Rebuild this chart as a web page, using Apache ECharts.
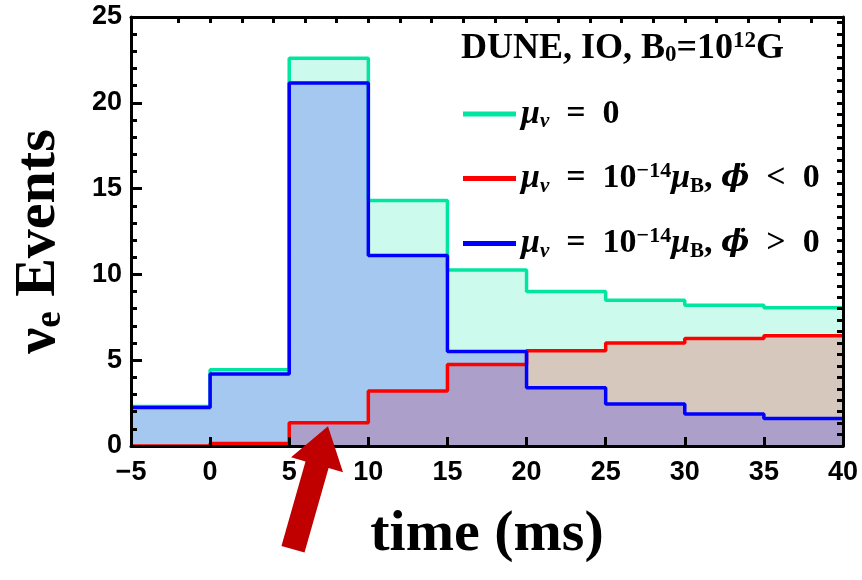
<!DOCTYPE html>
<html>
<head>
<meta charset="utf-8">
<script src="https://cdn.jsdelivr.net/npm/echarts@6/dist/echarts.min.js"></script>
<style>
  html, body { margin: 0; padding: 0; background: #fff; }
  #chart { width: 862px; height: 580px; }
</style>
</head>
<body>
<div id="chart"></div>
<script>
// bin edges (ms) and event counts per 5 ms bin
const binEdges = [-5, 0, 5, 10, 15, 20, 25, 30, 35, 40];
const muZero = [2.3, 4.45, 22.6, 14.3, 10.25, 9.0, 8.5, 8.2, 8.05];
const muNeg = [0, 0.14, 1.35, 3.2, 4.75, 5.55, 6.0, 6.27, 6.43];
const muPos = [2.25, 4.2, 21.15, 11.1, 5.5, 3.4, 2.45, 1.86, 1.6];

// where the red arrow points (time, events)
const arrowTip = [7.45, 1.15];

const topTicks = [-2, 0, 2, 4, 6, 8, 10, 12, 14, 16, 18, 20, 22, 24, 26, 28, 30, 32, 34, 36, 38];

const names = ['mu0', 'muNeg', 'muPos'];
const colors = ['#00e6a0', '#ff0000', '#0000ff'];

function stepData(vals) {
    let pts = [];
    for (let i = 0; i < vals.length; i++) {
        pts.push([binEdges[i], vals[i]]);
    }
    pts.push([binEdges[binEdges.length - 1], vals[vals.length - 1]]);
    return pts;
}

function histSeries(name, vals, color) {
    return {
        name: name,
        type: 'line',
        step: 'end',
        data: stepData(vals),
        symbol: 'none',
        lineStyle: { color: color, width: 3.5 },
        itemStyle: { color: color },
        areaStyle: { color: color, opacity: 0.2, origin: 'start' },
        animation: false
    };
}

// arrow drawn from the data point through the axes
function renderArrow(params, api) {
    const tip = api.coord([api.value(0), api.value(1)]);
    const tail = [tip[0] - 35, tip[1] + 123];
    const dx = tip[0] - tail[0], dy = tip[1] - tail[1];
    const len = Math.sqrt(dx * dx + dy * dy);
    const ux = dx / len, uy = dy / len;
    const px = -uy, py = ux;
    const headLen = 40, headW = 27, shaftW = 12;
    const bx = tip[0] - ux * headLen, by = tip[1] - uy * headLen;
    return {
        type: 'polygon',
        shape: {
            points: [
                tip,
                [bx + px * headW, by + py * headW],
                [bx + px * shaftW, by + py * shaftW],
                [tail[0] + px * shaftW, tail[1] + py * shaftW],
                [tail[0] - px * shaftW, tail[1] - py * shaftW],
                [bx - px * shaftW, by - py * shaftW],
                [bx - px * headW, by - py * headW]
            ]
        },
        style: { fill: '#c00000' }
    };
}

const serif = 'Liberation Serif';
const fs = 34;
const rich = {
    m: { fontFamily: serif, fontSize: fs, fontWeight: 'bold', fontStyle: 'italic', color: '#000' },
    p: { fontFamily: 'DejaVu Serif', fontSize: fs - 4, fontWeight: 'bold', fontStyle: 'italic', color: '#000' },
    n: { fontFamily: serif, fontSize: fs, fontWeight: 'bold', color: '#000' },
    sub: { fontFamily: serif, fontSize: 21, fontWeight: 'bold', fontStyle: 'italic', color: '#000', verticalAlign: 'bottom', padding: [15, 0, 0, 0] },
    subn: { fontFamily: serif, fontSize: 21, fontWeight: 'bold', color: '#000', verticalAlign: 'bottom', padding: [15, 0, 0, 0] },
    sup: { fontFamily: serif, fontSize: 22, fontWeight: 'bold', color: '#000', verticalAlign: 'top', padding: [0, 0, 15, 0] }
};

const legendText = {
    mu0: '{m|μ}{sub|ν}{n|  =  0}',
    muNeg: '{m|μ}{sub|ν}{n|  =  10}{sup|−14}{m|μ}{subn|B}{n|, }{p|ϕ̇}{n|  <  0}',
    muPos: '{m|μ}{sub|ν}{n|  =  10}{sup|−14}{m|μ}{subn|B}{n|, }{p|ϕ̇}{n|  >  0}'
};

const chart = echarts.init(document.getElementById('chart'));

const axisBlack = { color: '#000', width: 3 };
const tickBlack = { color: '#000', width: 3 };

const option = {
    animation: false,
    grid: { left: 131, right: 19, top: 17, bottom: 134 },
    title: {
        text: '{t|DUNE, IO, B}{ts|0}{t|=10}{tp|12}{t|G}',
        left: 456,
        top: 25,
        textStyle: {
            rich: {
                t: { fontFamily: serif, fontSize: 36, fontWeight: 'bold', color: '#000' },
                ts: { fontFamily: serif, fontSize: 23, fontWeight: 'bold', color: '#000', verticalAlign: 'bottom', padding: [14, 0, 0, 0] },
                tp: { fontFamily: serif, fontSize: 23, fontWeight: 'bold', color: '#000', verticalAlign: 'top', padding: [0, 0, 14, 0] }
            }
        }
    },
    legend: {
        data: names,
        orient: 'vertical',
        left: 458,
        top: 92,
        itemWidth: 53,
        itemHeight: 5,
        itemGap: 28,
        icon: 'rect',
        formatter: name => legendText[name],
        textStyle: { rich: rich }
    },
    xAxis: [{
        type: 'value',
        min: -5,
        max: 40,
        interval: 5,
        z: 10,
        name: 'time (ms)',
        nameLocation: 'middle',
        nameGap: 60,
        nameTextStyle: { fontFamily: serif, fontSize: 58, fontWeight: 'bold', color: '#000' },
        axisLine: { show: true, onZero: false, lineStyle: axisBlack },
        axisTick: { show: true, inside: true, length: 9, lineStyle: tickBlack },
        axisLabel: {
            margin: 13,
            fontFamily: 'Liberation Sans',
            fontSize: 27,
            fontWeight: 'bold',
            color: '#000',
            formatter: v => (v < 0 ? '−' + Math.abs(v) : String(v))
        },
        splitLine: { show: false }
    }, {
        type: 'value',
        min: -5,
        max: 40,
        position: 'top',
        z: 10,
        axisLine: { show: true, onZero: false, lineStyle: axisBlack },
        axisTick: { show: true, inside: true, length: 6, customValues: topTicks, lineStyle: tickBlack },
        axisLabel: { show: false },
        splitLine: { show: false }
    }],
    yAxis: [{
        type: 'value',
        min: 0,
        max: 25,
        interval: 5,
        z: 10,
        name: '{a|ν}{b|e}{a| Events}',
        nameLocation: 'middle',
        nameRotate: 90,
        nameGap: 62,
        nameTextStyle: {
            padding: [0, 20, 0, 0],
            rich: {
                a: { fontFamily: serif, fontSize: 58, fontWeight: 'bold', color: '#000' },
                b: { fontFamily: serif, fontSize: 37, fontWeight: 'bold', color: '#000', verticalAlign: 'bottom', padding: [22, 0, 0, 0] }
            }
        },
        axisLine: { show: true, onZero: false, lineStyle: axisBlack },
        axisTick: { show: true, inside: true, length: 11, lineStyle: tickBlack },
        minorTick: { show: true, splitNumber: 5, length: 6, lineStyle: tickBlack },
        axisLabel: { margin: 9, fontFamily: 'Liberation Sans', fontSize: 27, fontWeight: 'bold', color: '#000' },
        splitLine: { show: false },
        minorSplitLine: { show: false }
    }, {
        type: 'value',
        min: 0,
        max: 37.5,
        interval: 1,
        position: 'right',
        z: 10,
        axisLine: { show: true, onZero: false, lineStyle: axisBlack },
        axisTick: { show: true, inside: true, length: 6, lineStyle: tickBlack },
        axisLabel: { show: false },
        splitLine: { show: false }
    }],
    series: [
        histSeries('mu0', muZero, colors[0]),
        histSeries('muNeg', muNeg, colors[1]),
        histSeries('muPos', muPos, colors[2]),
        {
            name: 'arrow',
            type: 'custom',
            renderItem: renderArrow,
            data: [arrowTip],
            clip: false,
            z: 20,
            silent: true,
            animation: false
        }
    ]
};

chart.setOption(option);
</script>
</body>
</html>
